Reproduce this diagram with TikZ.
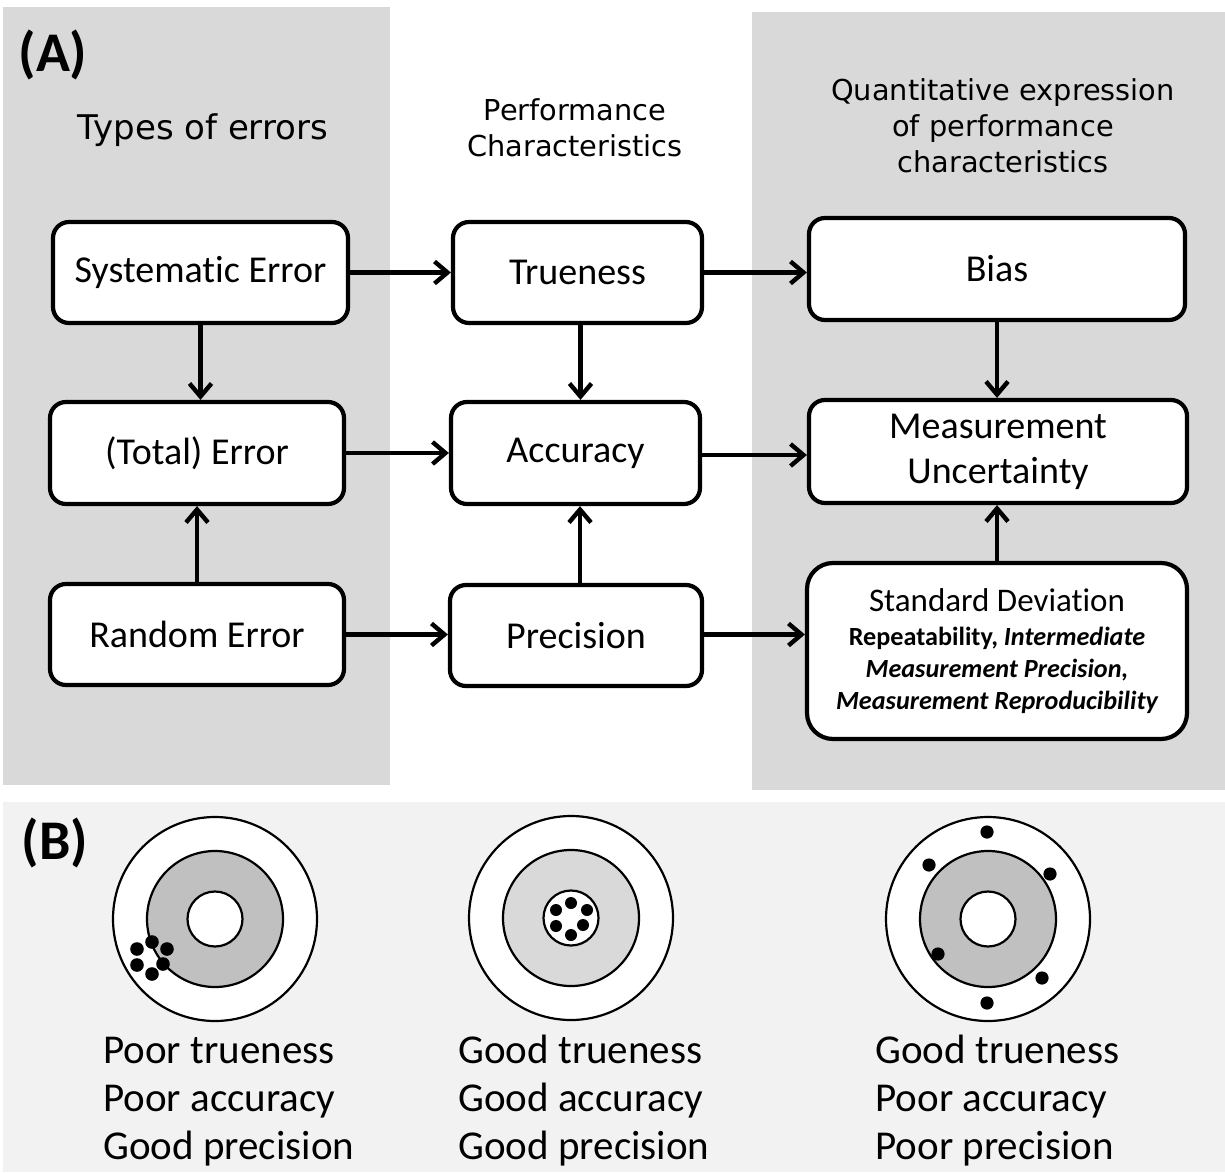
\documentclass[tikz,border=0pt]{standalone}
\usepackage{fontspec}
\setmainfont[Ligatures=NoCommon]{Carlito}
\newfontfamily\comic{DejaVu Sans}
\usetikzlibrary{arrows.meta}
\definecolor{panelgray}{HTML}{D9D9D9}
\definecolor{bottomgray}{HTML}{F2F2F2}
\definecolor{ringdark}{HTML}{C0C0C0}
\definecolor{ringlight}{HTML}{D9D9D9}
\begin{document}
\begin{tikzpicture}[x=0.5pt,y=-0.5pt,
  box/.style={draw=black, line width=2.1pt, fill=white, rounded corners=8pt, inner sep=0pt, align=center, font=\fontsize{19}{22.5}\selectfont},
  arr/.style={line width=2.2pt, -{Straight Barb[length=6.5pt,width=11pt,line width=2.2pt]}},
  head/.style={font=\comic\fontsize{14.4}{18}\selectfont, align=center},
  lab/.style={anchor=base west, inner sep=0pt, font=\fontsize{20.5}{24}\selectfont},
  target/.style={draw=black, line width=1.1pt},
  dot/.style={fill=black}
]
\useasboundingbox (0,0) rectangle (1225,1172);
% panels
\fill[panelgray] (3,7) rectangle (390,785);
\fill[panelgray] (752,12) rectangle (1225,790);
\fill[bottomgray] (3,802) rectangle (1225,1172);

% labels
\node[font=\bfseries\fontsize{28}{32}\selectfont, inner sep=0pt] (lA) at (53,55) {(A)};
\node[font=\bfseries\fontsize{28}{32}\selectfont, inner sep=0pt] (lB) at (55,843) {(B)};

% headings
\node[head, font=\comic\fontsize{17}{20}\selectfont] (h1) at (203,130) {Types of errors};
\node[head] (h2) at (575,128) {Performance\\Characteristics};
\node[head] (h3) at (1003,126) {Quantitative expression\\of performance\\characteristics};

% boxes
\node[box, minimum width=147.5pt, minimum height=50.5pt] (sys) at (200.5,272.5) {\raisebox{-1.5pt}{Systematic Error}};
\node[box, minimum width=124.5pt, minimum height=50.5pt] (tru) at (577.5,272.5) {\raisebox{-1pt}{Trueness}};
\node[box, minimum width=188pt, minimum height=51pt] (bias) at (997,269) {Bias};
\node[box, minimum width=147pt, minimum height=51pt] (tot) at (197,453) {(Total) Error};
\node[box, minimum width=124.5pt, minimum height=51pt] (acc) at (575.5,453) {\raisebox{-1.5pt}{Accuracy}};
\node[box, minimum width=189pt, minimum height=51.5pt] (mu) at (998,451.5) {Measurement\\Uncertainty};
\node[box, minimum width=147pt, minimum height=50.5pt] (rnd) at (197,634.5) {Random Error};
\node[box, minimum width=126pt, minimum height=50.5pt] (pre) at (576,635.5) {Precision};
\node[box, minimum width=190pt, minimum height=88pt, rounded corners=13pt,
      font=\fontsize{16.5}{16}\selectfont] (sd) at (997,651)
  {Standard Deviation\\[1pt]
   {\fontsize{13.1}{16}\selectfont\bfseries Repeatability, \itshape Intermediate}\\
   {\fontsize{13.1}{16}\selectfont\bfseries\itshape Measurement Precision,}\\
   {\fontsize{13.1}{16}\selectfont\bfseries\itshape Measurement Reproducibility}};

% connectors
\draw[arr] (sys) -- (tru);
\draw[arr] (tru.east) -- (tru.east -| bias.west);
\draw[arr] (sys.south) -- (sys.south |- tot.north);
\draw[arr] (rnd.north) -- (rnd.north |- tot.south);
\draw[arr] ([xshift=1.5pt]tru.south) -- ([xshift=1.5pt]tru.south |- acc.north);
\draw[arr] ([xshift=2pt]pre.north) -- ([xshift=2pt]pre.north |- acc.south);
\draw[arr] (bias.south) -- (bias.south |- mu.north);
\draw[arr] (sd.north) -- (sd.north |- mu.south);
\draw[arr] (tot) -- (acc);
\draw[arr] ([yshift=-1pt]acc.east) -- ([yshift=-1pt]acc.east -| mu.west);
\draw[arr] (rnd.east) -- (rnd.east -| pre.west);
\draw[arr] ([yshift=0.5pt]pre.east) -- ([yshift=0.5pt]pre.east -| sd.west);

% targets
\begin{scope}[shift={(215,919)}]
  \fill[white] (0,0) circle[radius=51pt];
  \draw[target] (0,0) circle[radius=51pt];
  \draw[target, fill=ringdark] (0,0) circle[radius=34pt];
  \draw[target, fill=white] (0,0) circle[radius=13.75pt];
\end{scope}
\foreach \p in {(152,942),(137,949),(167,949),(137,965),(163,964),(152,974)}
  \fill[dot] \p circle[radius=3.4pt];

\begin{scope}[shift={(571,918)}]
  \fill[white] (0,0) circle[radius=51pt];
  \draw[target] (0,0) circle[radius=51pt];
  \draw[target, fill=ringlight] (0,0) circle[radius=34pt];
  \draw[target, fill=white] (0,0) circle[radius=13.75pt];
\end{scope}
\foreach \p in {(571,903),(556,910),(587,910),(556,926),(583,925),(571,935)}
  \fill[dot] \p circle[radius=3pt];

\begin{scope}[shift={(988,919)}]
  \fill[white] (0,0) circle[radius=51pt];
  \draw[target] (0,0) circle[radius=51pt];
  \draw[target, fill=ringdark] (0,0) circle[radius=34pt];
  \draw[target, fill=white] (0,0) circle[radius=13.75pt];
\end{scope}
\foreach \p in {(987,832),(929,865),(1050,874),(938,954),(1042,978),(987,1003)}
  \fill[dot] \p circle[radius=3.3pt];

% captions
\foreach \t [count=\i] in {Poor trueness,Poor accuracy,Good precision}
  \node[lab] (c1\i) at (103,1015+48*\i) {\t};
\foreach \t [count=\i] in {Good trueness,Good accuracy,Good precision}
  \node[lab] (c2\i) at (458,1015+48*\i) {\t};
\foreach \t [count=\i] in {Good trueness,Poor accuracy,Poor precision}
  \node[lab] (c3\i) at (875,1015+48*\i) {\t};
\end{tikzpicture}
\end{document}
